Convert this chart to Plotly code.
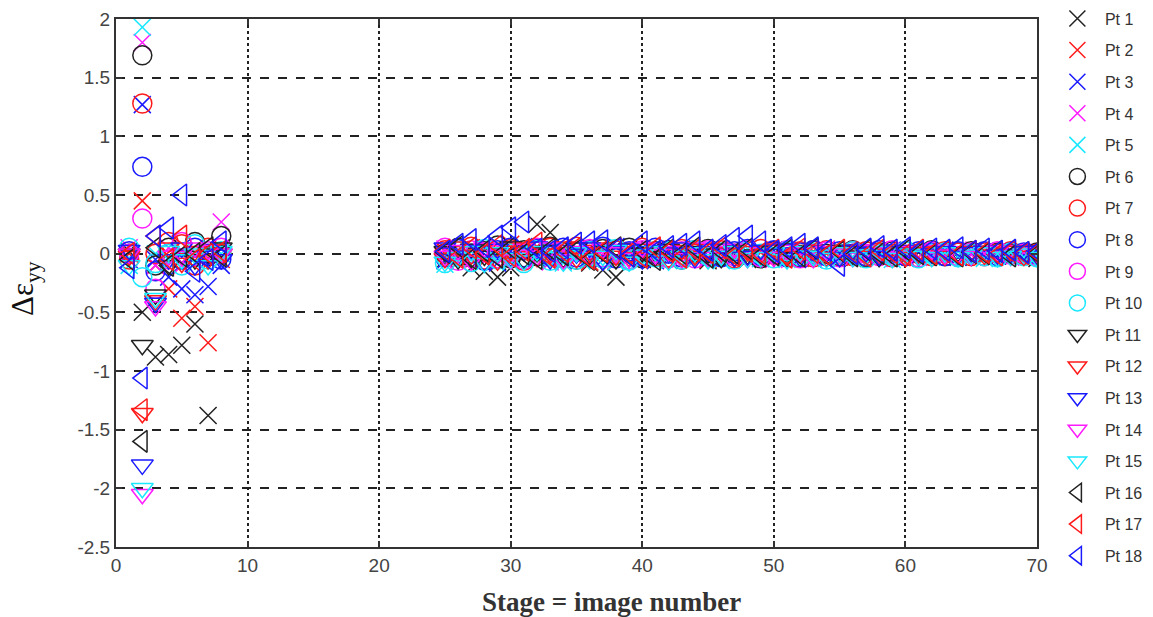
import plotly.graph_objects as go

# ---- data -------------------------------------------------------------
stages = [1, 2, 3, 4, 5, 6, 7, 8] + list(range(25, 71))

labels = ["Pt %d" % i for i in range(1, 19)]

y_ticks = [-2.5, -2, -1.5, -1, -0.5, 0, 0.5, 1, 1.5, 2]
y_tick_text = ["-2.5", "-2", "-1.5", "-1", "-0.5", "0", "0.5", "1", "1.5", "2"]
x_ticks = [0, 10, 20, 30, 40, 50, 60, 70]

pt1 = [0.02, -0.50, -0.88, -0.86, -0.78, -0.60, -1.38, 0.05,
       -0.05, -0.04, -0.12, -0.15, -0.20, -0.12, 0.05, 0.25, 0.18, 0.02,
       -0.03, -0.08, -0.14, -0.20, 0.02, -0.05, 0.00, -0.04, 0.02, -0.03,
       -0.06, 0.01, -0.02, -0.05, 0.02, -0.01, -0.04, 0.00, -0.03, 0.02,
       -0.02, -0.04, 0.01, -0.02, 0.00, -0.03, 0.01, -0.02, 0.00, -0.03,
       0.01, -0.01, -0.02, 0.00, -0.02, -0.04]
pt2 = [0.00, 0.45, -0.10, -0.30, -0.55, -0.45, -0.76, -0.05,
       0.02, -0.04, 0.05, -0.06, 0.03, 0.08, -0.02, 0.06, -0.05, 0.04,
       0.01, -0.07, 0.03, -0.03, 0.05, 0.00, -0.04, 0.03, -0.02, 0.04,
       -0.05, 0.02, 0.04, -0.03, 0.01, -0.02, 0.03, -0.04, 0.02, 0.00,
       -0.03, 0.02, -0.01, 0.03, -0.02, 0.01, -0.03, 0.02, 0.00, -0.02,
       0.02, -0.01, 0.01, -0.02, 0.01, 0.00]
pt3 = [-0.05, 1.27, -0.05, -0.20, -0.30, -0.35, -0.28, -0.10,
       -0.06, 0.03, -0.02, 0.05, -0.08, 0.02, 0.06, -0.04, 0.03, -0.06,
       0.04, 0.02, -0.05, 0.06, -0.02, 0.03, -0.06, 0.01, 0.04, -0.03,
       0.02, -0.05, 0.03, 0.01, -0.04, 0.03, -0.02, 0.02, -0.05, 0.03,
       0.01, -0.03, 0.02, -0.02, 0.03, -0.04, 0.02, -0.01, 0.03, -0.03,
       0.01, 0.02, -0.02, 0.01, -0.01, 0.02]
pt4 = [0.05, 1.80, -0.10, 0.05, -0.10, 0.00, -0.05, 0.27,
       0.04, -0.07, 0.02, -0.03, 0.06, -0.05, 0.01, 0.04, -0.07, 0.02,
       -0.04, 0.05, 0.00, -0.06, 0.03, -0.02, 0.04, -0.05, 0.01, 0.02,
       -0.03, 0.04, -0.02, 0.01, 0.03, -0.05, 0.02, 0.00, -0.03, 0.04,
       -0.02, 0.01, 0.03, -0.04, 0.01, 0.02, -0.03, 0.01, -0.02, 0.03,
       -0.01, 0.00, 0.02, -0.03, 0.01, -0.01]
pt5 = [-0.10, 1.93, 0.00, -0.05, 0.02, -0.08, 0.05, 0.00,
       -0.09, 0.01, -0.05, 0.03, -0.02, -0.07, 0.04, -0.03, 0.02, -0.08,
       0.03, -0.02, 0.05, -0.07, 0.00, 0.04, -0.03, -0.06, 0.02, -0.01,
       0.03, -0.06, 0.01, 0.04, -0.04, 0.00, -0.05, 0.03, 0.01, -0.04,
       0.02, -0.03, 0.00, 0.02, -0.05, 0.01, 0.03, -0.03, 0.01, -0.02,
       0.02, -0.04, 0.00, 0.01, -0.03, -0.02]
pt6 = [0.00, 1.69, -0.10, 0.05, -0.05, 0.10, -0.02, 0.15,
       0.00, 0.05, -0.03, 0.02, 0.07, -0.04, 0.03, -0.02, 0.06, 0.01,
       -0.05, 0.02, 0.04, -0.01, 0.05, -0.04, 0.02, 0.03, -0.05, 0.01,
       0.04, -0.02, 0.00, 0.03, -0.04, 0.02, 0.01, -0.03, 0.03, 0.00,
       -0.02, 0.03, -0.03, 0.01, 0.02, -0.02, 0.00, 0.03, -0.02, 0.01,
       0.02, -0.02, 0.01, 0.00, -0.01, 0.01]
pt7 = [-0.05, 1.28, 0.00, 0.10, 0.08, -0.10, 0.05, 0.00,
       0.03, -0.02, 0.06, -0.05, 0.01, 0.04, -0.06, 0.02, 0.05, -0.03,
       0.06, -0.01, -0.04, 0.03, 0.01, 0.05, -0.02, -0.03, 0.04, 0.00,
       -0.02, 0.03, -0.04, 0.02, 0.04, -0.01, 0.00, 0.02, -0.03, 0.03,
       0.00, -0.02, 0.02, 0.01, -0.03, 0.02, 0.00, -0.02, 0.02, 0.01,
       -0.02, 0.01, 0.00, 0.02, -0.01, 0.00]
pt8 = [0.02, 0.74, -0.15, 0.00, -0.05, 0.05, 0.00, -0.05,
       -0.03, 0.04, 0.00, -0.06, 0.03, 0.05, -0.03, 0.04, -0.02, 0.05,
       -0.03, 0.03, 0.06, -0.04, 0.02, -0.02, 0.05, 0.00, -0.03, 0.03,
       0.01, -0.03, 0.02, 0.04, -0.02, 0.03, -0.03, 0.01, 0.03, -0.02,
       0.02, 0.00, -0.02, 0.03, 0.00, -0.02, 0.02, 0.01, -0.02, 0.02,
       0.00, 0.02, -0.02, 0.01, 0.01, -0.01]
pt9 = [0.00, 0.30, -0.30, -0.05, 0.10, -0.02, 0.02, 0.05,
       0.05, -0.06, 0.03, 0.01, -0.04, 0.02, -0.05, 0.05, 0.00, -0.04,
       0.02, 0.04, -0.03, 0.00, -0.05, 0.03, 0.01, -0.04, 0.02, -0.04,
       0.03, 0.00, -0.02, 0.03, -0.03, 0.01, 0.03, -0.04, 0.00, 0.02,
       -0.03, 0.02, 0.00, -0.02, 0.03, -0.01, -0.03, 0.02, 0.00, -0.02,
       0.01, -0.02, 0.02, -0.01, 0.00, -0.02]
pt10 = [0.05, -0.20, -0.08, 0.00, -0.10, 0.08, -0.05, 0.02,
        -0.08, 0.02, -0.07, 0.04, -0.05, 0.00, -0.08, 0.03, -0.06, 0.01,
        -0.05, 0.02, -0.04, 0.04, -0.06, 0.00, -0.03, 0.02, -0.05, 0.03,
        -0.02, 0.01, -0.05, 0.02, 0.00, -0.04, 0.02, -0.02, 0.01, -0.05,
        0.00, 0.02, -0.04, 0.00, -0.02, 0.02, -0.04, 0.00, 0.01, -0.03,
        0.00, -0.02, -0.03, 0.01, -0.02, -0.03]
pt11 = [0.00, -0.78, -0.35, -0.10, 0.00, -0.05, 0.00, 0.05,
        0.02, -0.05, 0.04, -0.02, 0.00, 0.06, -0.05, 0.01, 0.03, -0.04,
        0.05, -0.02, 0.02, -0.05, 0.04, 0.01, -0.02, 0.04, -0.03, 0.02,
        0.00, -0.04, 0.03, -0.01, 0.02, 0.00, -0.03, 0.03, -0.02, 0.01,
        0.03, -0.02, 0.01, -0.03, 0.02, 0.00, -0.02, 0.02, -0.01, 0.01,
        -0.02, 0.02, 0.00, -0.01, 0.02, 0.00]
pt12 = [-0.02, -1.36, -0.40, 0.05, -0.08, 0.02, -0.05, 0.00,
        -0.04, 0.06, -0.01, 0.03, -0.06, 0.02, 0.05, -0.03, 0.00, 0.06,
        -0.04, 0.01, 0.05, -0.02, -0.03, 0.04, 0.02, -0.05, 0.03, -0.02,
        0.04, 0.01, -0.03, 0.02, -0.01, 0.04, -0.02, 0.00, 0.03, -0.03,
        0.01, 0.03, -0.02, 0.00, 0.02, -0.03, 0.01, 0.02, -0.02, 0.00,
        0.02, -0.01, 0.01, 0.02, -0.02, 0.01]
pt13 = [0.03, -1.80, -0.42, -0.05, 0.05, -0.10, -0.02, -0.05,
        0.05, -0.02, 0.03, -0.07, 0.04, -0.03, 0.02, 0.06, -0.05, 0.03,
        0.00, 0.05, -0.06, 0.02, 0.04, -0.05, 0.03, 0.01, 0.05, -0.04,
        0.02, 0.04, -0.03, -0.02, 0.03, 0.00, 0.04, -0.03, 0.02, 0.01,
        -0.03, 0.03, 0.01, -0.02, 0.02, 0.03, -0.02, 0.00, 0.02, -0.02,
        0.01, 0.02, -0.01, 0.00, 0.02, -0.02]
pt14 = [0.00, -2.05, -0.45, -0.02, 0.00, 0.05, 0.03, 0.00,
        -0.02, 0.03, -0.06, 0.05, -0.01, -0.05, 0.04, -0.02, 0.05, -0.05,
        0.02, -0.03, 0.04, 0.01, -0.04, 0.05, -0.01, 0.02, -0.04, 0.05,
        -0.03, 0.02, 0.04, -0.04, 0.01, -0.03, 0.03, 0.01, -0.04, 0.02,
        0.00, -0.03, 0.03, 0.01, -0.03, 0.02, -0.02, 0.03, -0.01, 0.00,
        -0.02, 0.01, 0.02, -0.02, 0.00, 0.01]
pt15 = [-0.10, -2.00, -0.38, 0.02, -0.05, 0.00, -0.10, 0.02,
        -0.07, -0.03, 0.02, -0.08, 0.01, -0.04, -0.06, 0.02, -0.03, -0.07,
        0.01, -0.05, -0.02, 0.03, -0.07, -0.01, 0.02, -0.06, -0.02, 0.01,
        -0.05, -0.02, 0.02, -0.04, -0.03, 0.01, -0.05, 0.02, -0.02, -0.04,
        0.01, -0.03, -0.01, 0.02, -0.04, 0.00, -0.02, -0.03, 0.01, -0.03,
        -0.01, 0.01, -0.03, -0.02, 0.00, -0.03]
pt16 = [-0.05, -1.60, 0.05, -0.10, -0.02, 0.00, 0.05, -0.02,
        0.01, 0.06, -0.04, 0.02, -0.03, 0.05, 0.00, -0.04, 0.04, -0.01,
        0.03, -0.05, 0.01, 0.05, -0.02, 0.02, -0.05, 0.03, 0.00, 0.05,
        -0.03, 0.02, 0.00, 0.04, -0.02, -0.01, 0.03, -0.02, 0.04, -0.01,
        0.02, -0.02, 0.03, 0.00, -0.02, 0.03, 0.00, -0.01, 0.02, -0.02,
        0.01, 0.00, 0.02, -0.02, 0.01, 0.00]
pt17 = [0.00, -1.33, 0.15, -0.05, 0.15, -0.05, 0.00, 0.02,
        0.03, -0.03, 0.05, 0.00, 0.07, -0.02, 0.03, 0.09, -0.03, 0.02,
        0.05, -0.04, 0.02, 0.04, 0.00, -0.03, 0.05, 0.02, -0.03, 0.03,
        0.01, 0.05, -0.02, 0.02, 0.00, 0.03, -0.03, 0.04, 0.01, -0.01,
        0.03, 0.01, -0.02, 0.03, 0.01, -0.01, 0.03, 0.00, 0.02, -0.01,
        0.02, 0.01, -0.01, 0.02, 0.00, 0.01]
pt18 = [-0.12, -1.06, 0.15, 0.22, 0.50, -0.15, -0.05, 0.10,
        0.02, 0.08, 0.12, 0.06, 0.15, 0.22, 0.27, 0.04, 0.02, 0.05,
        0.09, 0.10, 0.11, 0.04, -0.02, 0.10, 0.02, 0.06, 0.08, 0.10,
        0.03, 0.07, 0.13, 0.15, 0.10, 0.02, 0.05, 0.08, 0.05, 0.03,
        -0.10, 0.00, 0.04, 0.06, 0.03, 0.05, 0.02, 0.04, 0.03, 0.05,
        0.02, 0.04, 0.02, 0.03, 0.01, 0.02]

series = [pt1, pt2, pt3, pt4, pt5, pt6, pt7, pt8, pt9, pt10,
          pt11, pt12, pt13, pt14, pt15, pt16, pt17, pt18]

# ---- style ------------------------------------------------------------
palette = ["#222222", "#ff1a1a", "#1a1aff", "#ff1aff", "#1ae8ff"]
symbols = ["x-thin-open"] * 5 + ["circle-open"] * 5 + \
          ["triangle-down-open"] * 5 + ["triangle-left-open"] * 3
sizes = [17] * 5 + [19] * 5 + [19] * 5 + [19] * 3

fig = go.Figure()
for i, (lab, vals) in enumerate(zip(labels, series)):
    assert len(vals) == len(stages), lab
    col = palette[i % 5]
    fig.add_trace(go.Scatter(
        x=stages, y=vals, mode="markers", name=lab, legendgroup=lab,
        marker=dict(symbol=symbols[i], size=sizes[i], color=col,
                    line=dict(width=1.5, color=col)),
        cliponaxis=True,
    ))

axis_common = dict(
    showline=True, linecolor="#333333", linewidth=2, mirror="ticks",
    ticks="inside", ticklen=6, tickcolor="#333333", tickwidth=1.5,
    showgrid=True, gridcolor="#222222", gridwidth=1.5, zeroline=False,
    automargin=False,
    tickfont=dict(family="Liberation Sans, Arial", size=19, color="#444444"),
)

fig.update_xaxes(range=[0, 70], tickmode="array", tickvals=x_ticks,
                 griddash="dot", **axis_common)
fig.update_yaxes(range=[-2.5, 2], tickmode="array", tickvals=y_ticks,
                 ticktext=y_tick_text, griddash="dash", **axis_common)

fig.update_layout(
    width=1153, height=617,
    margin=dict(l=116, r=116, t=19, b=70, autoexpand=False),
    paper_bgcolor="white", plot_bgcolor="white",
    showlegend=True,
    legend=dict(x=1.014, y=1.033, xanchor="left", yanchor="top",
                font=dict(family="Liberation Sans Narrow, Arial Narrow, Liberation Sans",
                          size=16, color="#333333"),
                tracegroupgap=7.8, bgcolor="rgba(0,0,0,0)", itemwidth=45,
                maxheight=610),
    annotations=[
        dict(text="<b>Stage = image number</b>", xref="paper", yref="paper",
             x=0.5375, y=-0.105, xanchor="center", yanchor="middle",
             showarrow=False,
             font=dict(family="Liberation Serif, Times New Roman", size=27,
                       color="#333333")),
        dict(text="Δε<sub>yy</sub>", xref="paper", yref="paper",
             x=-0.098, y=0.49, xanchor="center", yanchor="middle",
             textangle=-90, showarrow=False,
             font=dict(family="Liberation Serif, Times New Roman", size=31,
                       color="#111111")),
    ],
)

fig.write_html("out.html",
               config={"displayModeBar": False},
               post_script="document.body.style.margin='0';"
                           "document.body.style.overflow='hidden';")
